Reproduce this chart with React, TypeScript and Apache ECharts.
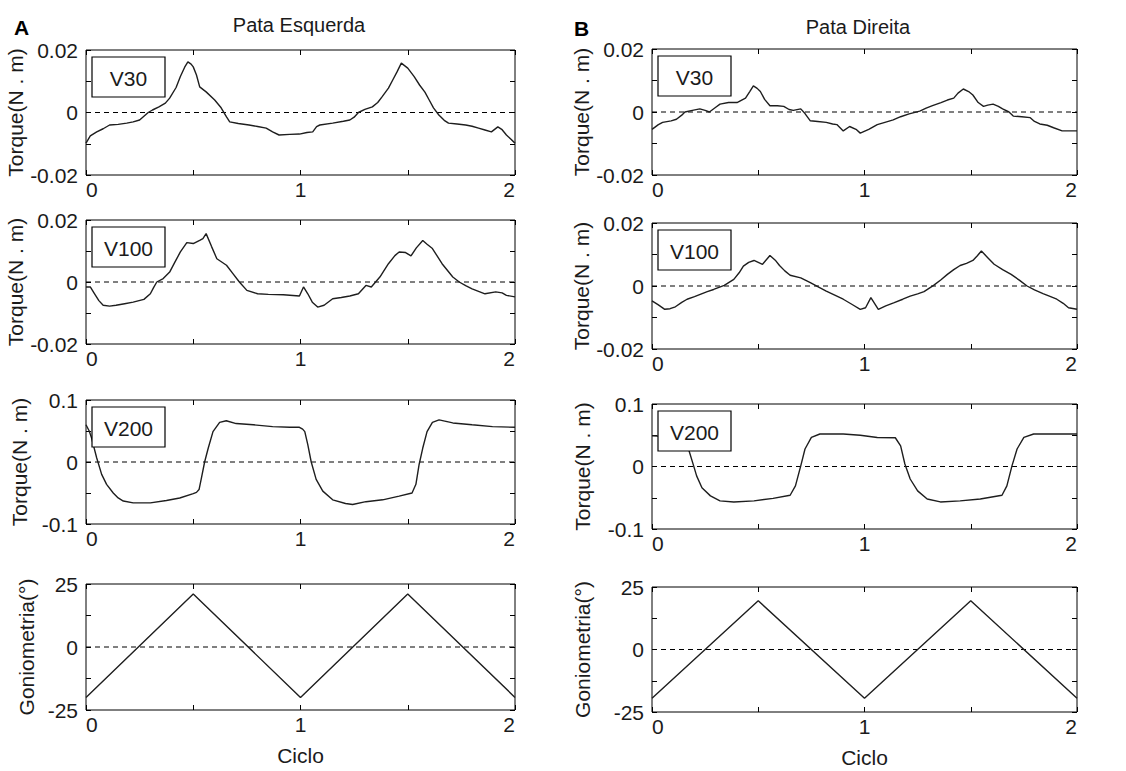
import React, { useEffect, useRef } from "react";
import * as echarts from "echarts";

// ---------- data (x = Ciclo, y = value) ----------
const v30Left: [number, number][] = [
  [0, -0.0098], [0.02, -0.0075], [0.05, -0.0062], [0.08, -0.0052], [0.11, -0.004], [0.15, -0.0038],
  [0.19, -0.0034], [0.22, -0.003], [0.25, -0.0024], [0.27, -0.0012], [0.29, 0], [0.31, 0.0008],
  [0.34, 0.0018], [0.37, 0.003], [0.39, 0.0046], [0.42, 0.008], [0.44, 0.0115], [0.46, 0.0145],
  [0.475, 0.0162], [0.49, 0.0155], [0.5, 0.0146], [0.515, 0.012], [0.53, 0.0082], [0.56, 0.0066],
  [0.6, 0.004], [0.63, 0.0015], [0.655, -0.0014], [0.67, -0.003], [0.71, -0.0035], [0.76, -0.004],
  [0.8, -0.0045], [0.84, -0.005], [0.87, -0.0062], [0.9, -0.0072], [0.95, -0.007], [0.995, -0.0069],
  [1.03, -0.0064], [1.057, -0.0062], [1.075, -0.0045], [1.09, -0.004], [1.15, -0.0034], [1.2, -0.0028],
  [1.23, -0.0024], [1.25, -0.0015], [1.27, 0], [1.3, 0.001], [1.335, 0.0018], [1.36, 0.0032],
  [1.38, 0.005], [1.41, 0.0078], [1.43, 0.0104], [1.45, 0.013], [1.47, 0.0158], [1.485, 0.015],
  [1.5, 0.0142], [1.53, 0.0115], [1.555, 0.0088], [1.58, 0.0065], [1.6, 0.004], [1.62, 0.0015],
  [1.645, -0.0008], [1.67, -0.0025], [1.69, -0.0034], [1.73, -0.0037], [1.77, -0.004], [1.8, -0.0044],
  [1.83, -0.005], [1.86, -0.0056], [1.89, -0.0062], [1.92, -0.0046], [1.94, -0.0055], [1.96, -0.0072],
  [1.98, -0.0085], [2.0, -0.0098],
];

const v30Right: [number, number][] = [
  [0, -0.0055], [0.03, -0.004], [0.05, -0.0033], [0.09, -0.0028], [0.115, -0.0023], [0.14, -0.001],
  [0.155, 0], [0.19, 0.0005], [0.225, 0.001], [0.25, 0.0005], [0.27, 0], [0.3, 0.0015], [0.32, 0.0025],
  [0.36, 0.003], [0.4, 0.003], [0.44, 0.0044], [0.46, 0.0065], [0.477, 0.0083], [0.495, 0.0075],
  [0.51, 0.0065], [0.53, 0.004], [0.555, 0.002], [0.59, 0.002], [0.62, 0.0018], [0.645, 0.0008],
  [0.665, 0.0005], [0.7, 0.001], [0.72, -0.0005], [0.745, -0.0028], [0.78, -0.003], [0.82, -0.0033],
  [0.85, -0.0038], [0.87, -0.004], [0.9, -0.006], [0.93, -0.0046], [0.96, -0.0055], [0.98, -0.0067],
  [1.02, -0.0055], [1.06, -0.004], [1.1, -0.0032], [1.135, -0.0025], [1.17, -0.0015], [1.21, -0.0006],
  [1.26, 0.0003], [1.29, 0.0012], [1.32, 0.002], [1.36, 0.003], [1.39, 0.0038], [1.42, 0.0044],
  [1.44, 0.006], [1.465, 0.0073], [1.49, 0.0065], [1.51, 0.0054], [1.535, 0.003], [1.56, 0.0018],
  [1.58, 0.0022], [1.605, 0.0025], [1.63, 0.0018], [1.65, 0.001], [1.68, 0], [1.7, -0.0013],
  [1.74, -0.0015], [1.78, -0.0018], [1.8, -0.003], [1.825, -0.0038], [1.86, -0.0042], [1.89, -0.005],
  [1.93, -0.006], [1.97, -0.006], [2.0, -0.006],
];

const v100Left: [number, number][] = [
  [0, -0.0016], [0.02, -0.0016], [0.04, -0.0038], [0.06, -0.006], [0.08, -0.0075], [0.11, -0.0078],
  [0.14, -0.0075], [0.18, -0.007], [0.22, -0.0065], [0.27, -0.0056], [0.3, -0.0038], [0.315, -0.0018],
  [0.33, 0], [0.36, 0.0011], [0.39, 0.0032], [0.415, 0.0065], [0.44, 0.0097], [0.47, 0.0127],
  [0.5, 0.0124], [0.53, 0.0134], [0.545, 0.014], [0.56, 0.0156], [0.585, 0.0115], [0.61, 0.0075],
  [0.655, 0.0054], [0.685, 0.0027], [0.715, 0], [0.75, -0.0027], [0.8, -0.0038], [0.85, -0.004],
  [0.92, -0.0041], [0.995, -0.0045], [1.014, -0.0016], [1.034, -0.0038], [1.055, -0.0065],
  [1.08, -0.0081], [1.11, -0.0075], [1.15, -0.0054], [1.19, -0.005], [1.23, -0.0045], [1.27, -0.0038],
  [1.305, -0.0011], [1.33, -0.0016], [1.37, 0.0016], [1.41, 0.0059], [1.44, 0.0085], [1.46, 0.0097],
  [1.49, 0.0095], [1.515, 0.0084], [1.54, 0.011], [1.57, 0.0134], [1.59, 0.0122], [1.615, 0.0108],
  [1.66, 0.0059], [1.71, 0.0016], [1.74, 0], [1.77, -0.0012], [1.8, -0.0022], [1.86, -0.0038],
  [1.91, -0.0032], [1.94, -0.0035], [1.96, -0.0043], [2.0, -0.0048],
];

const v100Right: [number, number][] = [
  [0, -0.0047], [0.03, -0.006], [0.06, -0.0074], [0.085, -0.0072], [0.11, -0.0066], [0.14, -0.0052],
  [0.165, -0.0042], [0.2, -0.0034], [0.23, -0.0026], [0.26, -0.0018], [0.29, -0.0011], [0.34, 0.0002],
  [0.385, 0.0021], [0.41, 0.0042], [0.43, 0.0063], [0.455, 0.0075], [0.48, 0.0081], [0.5, 0.0075],
  [0.52, 0.0069], [0.555, 0.0097], [0.58, 0.0082], [0.6, 0.0065], [0.625, 0.0048], [0.65, 0.0034],
  [0.7, 0.0026], [0.745, 0.0011], [0.78, -0.0002], [0.82, -0.0016], [0.86, -0.0029], [0.9, -0.0042],
  [0.94, -0.0058], [0.98, -0.0074], [1.005, -0.0069], [1.03, -0.0037], [1.065, -0.0074], [1.1, -0.0063],
  [1.14, -0.0053], [1.18, -0.0042], [1.215, -0.0032], [1.25, -0.0025], [1.28, -0.0018], [1.325, 0.0002],
  [1.36, 0.002], [1.39, 0.0037], [1.42, 0.0052], [1.45, 0.0065], [1.48, 0.0072], [1.51, 0.0081],
  [1.53, 0.0095], [1.55, 0.0111], [1.58, 0.009], [1.61, 0.0069], [1.65, 0.0052], [1.69, 0.0037],
  [1.73, 0.0018], [1.765, 0], [1.8, -0.0012], [1.84, -0.0024], [1.87, -0.0032], [1.905, -0.0042],
  [1.935, -0.0055], [1.96, -0.0069], [2.0, -0.0074],
];

const v200Left: [number, number][] = [
  [0, 0.06], [0.015, 0.05], [0.026, 0.0386], [0.05, 0.0064], [0.073, -0.02], [0.096, -0.036],
  [0.127, -0.05], [0.15, -0.058], [0.174, -0.063], [0.22, -0.066], [0.3, -0.066], [0.375, -0.062],
  [0.437, -0.058], [0.5, -0.051], [0.515, -0.049], [0.527, -0.0445], [0.538, -0.026], [0.553, 0],
  [0.57, 0.0225], [0.592, 0.049], [0.623, 0.064], [0.654, 0.0665], [0.7, 0.062], [0.78, 0.06],
  [0.87, 0.057], [0.95, 0.056], [0.995, 0.056], [1.01, 0.053], [1.02, 0.049], [1.034, 0.028],
  [1.05, 0], [1.073, -0.028], [1.104, -0.047], [1.15, -0.061], [1.21, -0.067], [1.243, -0.0686],
  [1.305, -0.064], [1.383, -0.061], [1.46, -0.055], [1.52, -0.05], [1.538, -0.036], [1.553, -0.004],
  [1.57, 0.0225], [1.59, 0.049], [1.615, 0.064], [1.646, 0.068], [1.71, 0.063], [1.8, 0.06],
  [1.895, 0.057], [2.0, 0.056],
];

const v200Right: [number, number][] = [
  [0, 0.049], [0.08, 0.048], [0.13, 0.042], [0.17, 0.03], [0.196, 0.001], [0.21, -0.015],
  [0.235, -0.034], [0.275, -0.047], [0.32, -0.055], [0.385, -0.0567], [0.48, -0.055], [0.57, -0.051],
  [0.65, -0.046], [0.675, -0.031], [0.7, 0.001], [0.72, 0.028], [0.75, 0.0465], [0.79, 0.052],
  [0.9, 0.052], [0.98, 0.05], [1.06, 0.0465], [1.145, 0.046], [1.17, 0.033], [1.19, 0.004],
  [1.215, -0.02], [1.25, -0.039], [1.295, -0.052], [1.357, -0.0567], [1.45, -0.055], [1.545, -0.052],
  [1.647, -0.046], [1.67, -0.031], [1.694, 0.001], [1.718, 0.028], [1.75, 0.0465], [1.796, 0.052],
  [2.0, 0.052],
];

const gonioLeft: [number, number][] = [[0, -20], [0.5, 21], [1, -20], [1.5, 21], [2, -20]];
const gonioRight: [number, number][] = [[0, -19.5], [0.5, 19.5], [1, -19.5], [1.5, 19.5], [2, -19.5]];

const zeroLine: [number, number][] = [[0, 0], [2, 0]];

const yLimits = [0.02, 0.02, 0.1, 25];
const yNames = ["Torque(N . m)", "Torque(N . m)", "Torque(N . m)", "Goniometria(°)"];
const boxLabels = ["V30", "V100", "V200", ""];
const columnTitles = ["Pata Esquerda", "Pata Direita"];
const columnLetters = ["A", "B"];
const xName = "Ciclo";

// ---------- layout ----------
const FONT = '"Liberation Sans", Arial, Helvetica, sans-serif';
const INK = "#1b1b1b";
const FS = 21;

const leftRects = [
  [86, 50, 429, 125],
  [86, 220, 429, 124],
  [86, 400, 429, 124],
  [86, 584, 429, 126],
];
const rightRects = [
  [652, 49, 425, 126],
  [652, 223, 425, 126],
  [652, 404, 425, 125],
  [652, 587, 425, 125],
];

export default function App() {
  const ref = useRef<HTMLDivElement>(null);

  useEffect(() => {
    if (!ref.current) return;
    const chart = echarts.init(ref.current, null, { renderer: "svg" });

    const panels: any[] = [];
    const leftData = [v30Left, v100Left, v200Left, gonioLeft];
    const rightData = [v30Right, v100Right, v200Right, gonioRight];
    for (let r = 0; r < 4; r++) {
      panels.push({ rect: leftRects[r], data: leftData[r], row: r, col: 0 });
      panels.push({ rect: rightRects[r], data: rightData[r], row: r, col: 1 });
    }

    const grid: any[] = [];
    const xAxis: any[] = [];
    const yAxis: any[] = [];
    const series: any[] = [];
    const graphic: any[] = [];

    const tickStyle = { inside: true, length: 5, lineStyle: { color: "#000", width: 1 } };
    const hiddenLine = { show: false, onZero: false };
    const labelStyle = { color: INK, fontSize: FS, fontFamily: FONT };

    panels.forEach((p, i) => {
      const [l, t, w, h] = p.rect;
      const yMax = yLimits[p.row];
      grid.push({
        left: l, top: t, width: w, height: h,
        show: true, borderColor: "#000", borderWidth: 1, backgroundColor: "#fff",
      });
      const isBottomRow = p.row === 3;
      xAxis.push({
        type: "value", gridIndex: i, min: 0, max: 2, interval: 0.5, position: "bottom",
        axisLine: hiddenLine, splitLine: { show: false }, axisTick: tickStyle,
        axisLabel: {
          ...labelStyle, margin: 4, showMinLabel: true, showMaxLabel: true,
          alignMinLabel: "left", alignMaxLabel: "right",
          formatter: (v: number) => (Math.abs(v - Math.round(v)) < 1e-9 ? String(Math.round(v)) : ""),
        },
        name: isBottomRow ? xName : "", nameLocation: "middle", nameGap: 35,
        nameTextStyle: { ...labelStyle },
      });
      xAxis.push({
        type: "value", gridIndex: i, min: 0, max: 2, interval: 0.5, position: "top",
        axisLine: hiddenLine, splitLine: { show: false }, axisTick: tickStyle,
        axisLabel: { show: false },
      });
      const nameGap = p.col === 0 ? (isBottomRow ? 49 : 56) : 59;
      yAxis.push({
        type: "value", gridIndex: i, min: -yMax, max: yMax, interval: yMax / 2, position: "left",
        axisLine: hiddenLine, splitLine: { show: false }, axisTick: tickStyle,
        axisLabel: {
          ...labelStyle, margin: 8, showMinLabel: true, showMaxLabel: true,
          formatter: (v: number) => {
            if (Math.abs(v) < yMax * 1e-6) return "0";
            if (Math.abs(Math.abs(v) - yMax) < yMax * 1e-6) return String(v < 0 ? -yMax : yMax);
            return "";
          },
        },
        name: yNames[p.row], nameLocation: "middle", nameGap,
        nameTextStyle: { ...labelStyle },
      });
      yAxis.push({
        type: "value", gridIndex: i, min: -yMax, max: yMax, interval: yMax / 2, position: "right",
        axisLine: hiddenLine, splitLine: { show: false }, axisTick: tickStyle,
        axisLabel: { show: false },
      });

      series.push({
        type: "line", xAxisIndex: 2 * i, yAxisIndex: 2 * i, data: zeroLine,
        showSymbol: false, silent: true, z: 1,
        lineStyle: { color: "#000", width: 1, type: [5, 4] },
      });
      series.push({
        type: "line", xAxisIndex: 2 * i, yAxisIndex: 2 * i, data: p.data,
        showSymbol: false, silent: true, z: 3,
        lineStyle: { color: "#1e1e1e", width: 1.4 },
      });

      const label = boxLabels[p.row];
      if (label) {
        const bx = l + 6;
        const by = t + 7;
        const bw = 73;
        const bh = 40;
        graphic.push({
          type: "rect", z: 100, silent: true,
          shape: { x: bx, y: by, width: bw, height: bh },
          style: { fill: "#fff", stroke: "#000", lineWidth: 1.2 },
        });
        graphic.push({
          type: "text", z: 101, silent: true, x: bx + bw / 2, y: by + bh / 2 + 1,
          style: {
            text: label, fill: INK, fontSize: FS, fontFamily: FONT,
            align: "center", verticalAlign: "middle",
          },
        });
      }
    });

    // Column titles and letters
    const titleCenters = [[299, 25], [858, 27]];
    const letterPos = [[14, 27], [574, 28]];
    for (let c = 0; c < 2; c++) {
      graphic.push({
        type: "text", z: 101, silent: true, x: titleCenters[c][0], y: titleCenters[c][1],
        style: {
          text: columnTitles[c], fill: INK, fontSize: 20, fontFamily: FONT,
          align: "center", verticalAlign: "middle",
        },
      });
      graphic.push({
        type: "text", z: 101, silent: true, x: letterPos[c][0], y: letterPos[c][1],
        style: {
          text: columnLetters[c], fill: "#000", fontSize: 21, fontWeight: "bold", fontFamily: FONT,
          align: "left", verticalAlign: "middle",
        },
      });
    }

    chart.setOption({
      animation: false,
      backgroundColor: "#fff",
      grid, xAxis, yAxis, series, graphic,
    });

    return () => chart.dispose();
  }, []);

  return (
    <div
      ref={ref}
      style={{ position: "absolute", left: 0, top: 0, width: 1126, height: 771, background: "#fff" }}
    />
  );
}
